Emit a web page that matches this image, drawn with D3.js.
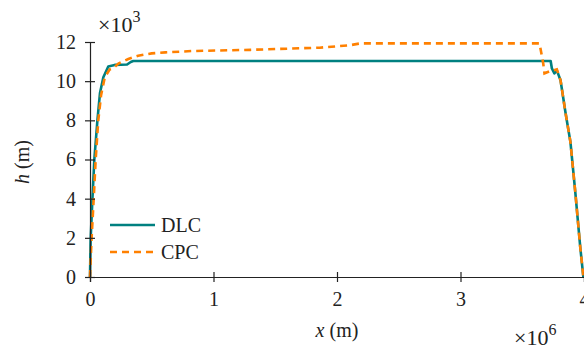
<!DOCTYPE html>
<html>
<head>
<meta charset="utf-8">
<script src="https://cdn.jsdelivr.net/npm/d3@7"></script>
<style>
  body { margin: 0; background: #fff; }
  svg text { font-family: "Liberation Serif", "DejaVu Serif", serif; fill: #222; }
</style>
</head>
<body>
<div id="chart"></div>
<script>
// x in units of 1e6 m, h in units of 1e3 m
const dlcX = [0, 0.005, 0.019, 0.035, 0.06, 0.081, 0.108, 0.148, 0.2, 0.3, 0.33, 0.35, 3.73, 3.74, 3.76, 3.78, 3.81, 3.85, 3.89, 3.93, 3.97, 3.995];
const dlcH = [0, 1.9, 3.9, 6.0, 8.0, 9.4, 10.2, 10.75, 10.83, 10.85, 10.98, 11.03, 11.03, 10.65, 10.4, 10.55, 10.05, 8.4, 6.9, 4.3, 1.5, 0];
const cpcX = [0, 0.013, 0.03, 0.046, 0.067, 0.09, 0.12, 0.16, 0.19, 0.23, 0.31, 0.39, 0.5, 0.61, 0.83, 1.3, 1.86, 2.1, 2.19, 3.64, 3.67, 3.68, 3.72, 3.78, 3.81, 3.85, 3.89, 3.93, 3.97, 3.995];
const cpcH = [0, 2.0, 4.0, 6.0, 8.0, 9.3, 10.2, 10.6, 10.67, 10.9, 11.13, 11.3, 11.42, 11.47, 11.54, 11.6, 11.71, 11.83, 11.93, 11.93, 10.9, 10.4, 10.5, 10.6, 10.05, 8.4, 6.9, 4.3, 1.5, 0];
const xTicks = [0, 1, 2, 3, 4];
const yTicks = [0, 2, 4, 6, 8, 10, 12];
const seriesNames = ['DLC', 'CPC'];

const width = 584, height = 351;
const margin = {top: 42, right: 0, bottom: 74, left: 90};
const fontSize = 20;

const svg = d3.select('#chart').append('svg')
    .attr('width', width).attr('height', height);

const x = d3.scaleLinear().domain([0, 4]).range([margin.left, width - margin.right]);
const y = d3.scaleLinear().domain([0, 12]).range([height - margin.bottom, margin.top]);

const line = d3.line().x(d => x(d[0])).y(d => y(d[1]));

const dlc = dlcX.map((v, i) => [v, dlcH[i]]);
const cpc = cpcX.map((v, i) => [v, cpcH[i]]);

svg.append('path').datum(dlc)
    .attr('fill', 'none').attr('stroke', '#008080').attr('stroke-width', 2.6)
    .attr('stroke-linejoin', 'round')
    .attr('d', line);

svg.append('path').datum(cpc)
    .attr('fill', 'none').attr('stroke', '#ff8000').attr('stroke-width', 2.6)
    .attr('stroke-dasharray', '7,5')
    .attr('d', line);

// axes
const xAxis = svg.append('g').attr('transform', 'translate(0,' + y(0) + ')')
    .call(d3.axisBottom(x).tickValues(xTicks).tickFormat(d3.format('d')).tickSize(5).tickPadding(10));
const yAxis = svg.append('g').attr('transform', 'translate(' + x(0) + ',0)')
    .call(d3.axisLeft(y).tickValues(yTicks).tickFormat(d3.format('d')).tickSize(5).tickPadding(9));

[xAxis, yAxis].forEach(g => {
    g.select('.domain').attr('stroke', '#222').attr('stroke-width', 1.2);
    g.selectAll('.tick text').style('font-size', fontSize + 'px')
        .style('font-family', '"Liberation Serif", serif').attr('fill', '#222');
    g.selectAll('.tick line').attr('stroke', '#222').attr('stroke-width', 1.2);
});
// ticks cross the axis line
xAxis.selectAll('.tick line').attr('y1', -5).attr('y2', 5);
yAxis.selectAll('.tick line').attr('x1', -5).attr('x2', 5);

// axis labels
const xl = svg.append('text').attr('x', 337).attr('y', 337)
    .attr('text-anchor', 'middle').style('font-size', fontSize + 'px');
xl.append('tspan').style('font-style', 'italic').text('x');
xl.append('tspan').text(' (m)');

const yl = svg.append('text').attr('transform', 'translate(29,162) rotate(-90)')
    .attr('text-anchor', 'middle').style('font-size', fontSize + 'px');
yl.append('tspan').style('font-style', 'italic').text('h');
yl.append('tspan').text(' (m)');

// scale multipliers
function multiplier(px, py, exp) {
    const t = svg.append('text').attr('x', px).attr('y', py).style('font-size', '22px');
    t.append('tspan').text('\u00d710');
    t.append('tspan').attr('dy', -10).style('font-size', '16px').text(exp);
}
multiplier(98, 32, '3');
multiplier(514, 345, '6');

// legend
const legend = svg.append('g');
const colors = ['#008080', '#ff8000'];
const dashes = [null, '7,5'];
seriesNames.forEach((name, i) => {
    const ly = 225 + i * 27;
    legend.append('line').attr('x1', 110).attr('x2', 155).attr('y1', ly).attr('y2', ly)
        .attr('stroke', colors[i]).attr('stroke-width', 2.6).attr('stroke-dasharray', dashes[i]);
    legend.append('text').attr('x', 161).attr('y', ly + 7).style('font-size', fontSize + 'px').text(name);
});
</script>
</body>
</html>
